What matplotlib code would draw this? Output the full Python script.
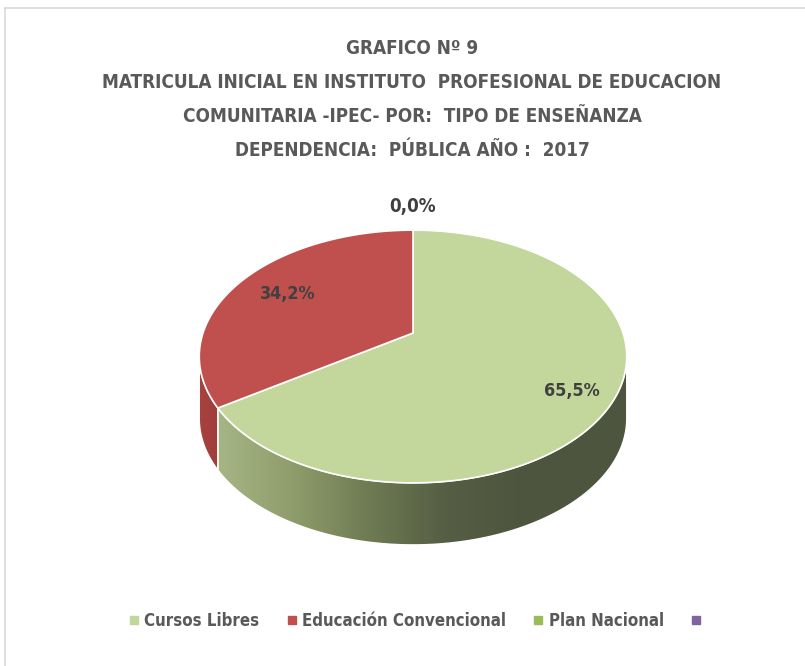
import numpy as np
import matplotlib
matplotlib.use("Agg")
import matplotlib.pyplot as plt
from matplotlib.patches import Polygon
from matplotlib.colors import LinearSegmentedColormap
from matplotlib.lines import Line2D

# ---------------- data ----------------
title_lines = [
    "GRAFICO Nº 9",
    "MATRICULA INICIAL EN INSTITUTO  PROFESIONAL DE EDUCACION",
    "COMUNITARIA -IPEC- POR:  TIPO DE ENSEÑANZA",
    "DEPENDENCIA:  PÚBLICA AÑO :  2017",
]
categories = ["Cursos Libres", "Educación Convencional", "Plan Nacional", ""]
values = [65.5, 34.2, 0.0]
value_labels = ["65,5%", "34,2%", "0,0%"]
top_colors = ["#c3d69b", "#c0504d", "#9bbb59", "#8064a2"]

FONT = ["DejaVu Sans", "Liberation Sans"]
plt.rcParams["font.family"] = FONT
plt.rcParams["font.stretch"] = "condensed"

W, H = 805, 666
fig = plt.figure(figsize=(W / 100, H / 100), dpi=100)
ax = fig.add_axes([0, 0, 1, 1])
ax.set_xlim(0, W)
ax.set_ylim(H, 0)
ax.axis("off")
renderer = fig.canvas.get_renderer()


def fit_text(t, target_w):
    w = t.get_window_extent(renderer).width
    t.set_fontsize(t.get_fontsize() * target_w / w)


# chart area border (top & left visible)
ax.plot([5, W], [8, 8], color="#d9d9d9", lw=1.2)
ax.plot([5, 5], [8, H], color="#d9d9d9", lw=1.2)

# ---------------- 3D pie geometry (perspective circle) ----------------
cx, cy = 413.0, 333.0
A, B, k = 210.0, 122.0, 0.186
depth = 62.0


def proj(t, r=1.0):
    u, v = r * np.cos(t), r * np.sin(t)
    w = 1 + k * v
    return cx + A * u / w, cy - B * v / w


total = float(np.sum(values))
fracs = np.array(values) / total
start = np.pi / 2
bounds = [start]
for f in fracs:
    bounds.append(bounds[-1] - f * 2 * np.pi)
bounds = np.array(bounds)

t_sil = np.arcsin(k)
left_sil = np.pi + t_sil - 2 * np.pi
right_sil = -t_sil

side_cmaps = [
    LinearSegmentedColormap.from_list("g", ["#a6b585", "#8d9c6a", "#6d7a52", "#555d43", "#4e553e", "#4e553e"]),
    LinearSegmentedColormap.from_list("r", ["#a8423f", "#a03d3a"]),
]


def side_poly(t0, t1):
    ts = np.linspace(t0, t1, 120)
    xs, ys = proj(ts)
    top = np.column_stack([xs, ys])
    bot = np.column_stack([xs[::-1], ys[::-1] + depth])
    return np.vstack([top, bot])


for i in range(len(values)):
    hi, lo = bounds[i], bounds[i + 1]
    a0 = min(hi, right_sil)
    a1 = max(lo, left_sil)
    if a0 <= a1 or values[i] == 0:
        continue
    pts = side_poly(a1, a0)
    poly = Polygon(pts, closed=True, facecolor="none", edgecolor="white", lw=1.0, zorder=3)
    ax.add_patch(poly)
    x0, x1 = pts[:, 0].min(), pts[:, 0].max()
    y0, y1 = pts[:, 1].min(), pts[:, 1].max()
    grad = np.linspace(0, 1, 256).reshape(1, -1)
    if i == 0:
        gx0, gx1 = 218, 600
    else:
        gx0, gx1 = x0, x1
    im = ax.imshow(grad, cmap=side_cmaps[min(i, 1)], aspect="auto",
                   extent=[gx0, gx1, y1, y0], zorder=2, interpolation="bilinear")
    if i == 0:
        im2 = ax.imshow(np.ones((1, 2)), cmap=LinearSegmentedColormap.from_list("d", ["#4e553e", "#4e553e"]),
                        vmin=0, vmax=1, aspect="auto", extent=[gx1, x1 + 2, y1, y0], zorder=2)
        im2.set_clip_path(poly)
    im.set_clip_path(poly)

for i in range(len(values)):
    if values[i] == 0:
        continue
    ts = np.linspace(bounds[i], bounds[i + 1], 300)
    xs, ys = proj(ts)
    pts = np.vstack([[cx, cy], np.column_stack([xs, ys])])
    ax.add_patch(Polygon(pts, closed=True, facecolor=top_colors[i], edgecolor="white",
                         lw=1.2, zorder=4, joinstyle="round"))

# data labels
label_r = [0.8, 0.72, 1.28]
label_dy = [8, 0, 0]
for i, lab in enumerate(value_labels):
    mid = (bounds[i] + bounds[i + 1]) / 2
    lx, ly = proj(mid, label_r[i])
    t = ax.text(lx, ly + label_dy[i], lab, ha="center", va="center", fontsize=14,
                fontweight="bold", color="#404040", zorder=6)
    fit_text(t, 56 if len(lab) == 5 else 47)

# ---------------- title ----------------
title_y = [48, 82, 116, 150]
tts = []
for s, y in zip(title_lines, title_y):
    tts.append(ax.text(412, y, s, ha="center", va="center", fontsize=15, fontweight="bold",
                       color="#595959", zorder=6))
w2 = tts[1].get_window_extent(renderer).width
fs_title = 15 * 622 / w2
for t in tts:
    t.set_fontsize(fs_title)

# ---------------- legend ----------------
probe = ax.text(0, 0, categories[0], fontsize=14, fontweight="bold")
fs_leg = 14 * 116 / probe.get_window_extent(renderer).width
probe.remove()
handles = [Line2D([], [], ls="none", marker="s", markersize=6, markerfacecolor=c,
                  markeredgecolor=c) for c in top_colors]
leg = fig.legend(handles, categories, loc="center", bbox_to_anchor=(418 / W, 1 - 621 / H),
                 ncol=4, frameon=False, handlelength=0.5, handletextpad=0.35,
                 columnspacing=1.7, prop={"family": FONT, "weight": "bold", "size": fs_leg,
                                           "stretch": "condensed"})
for t in leg.get_texts():
    t.set_color("#595959")

fig.savefig("out.png", dpi=100)
